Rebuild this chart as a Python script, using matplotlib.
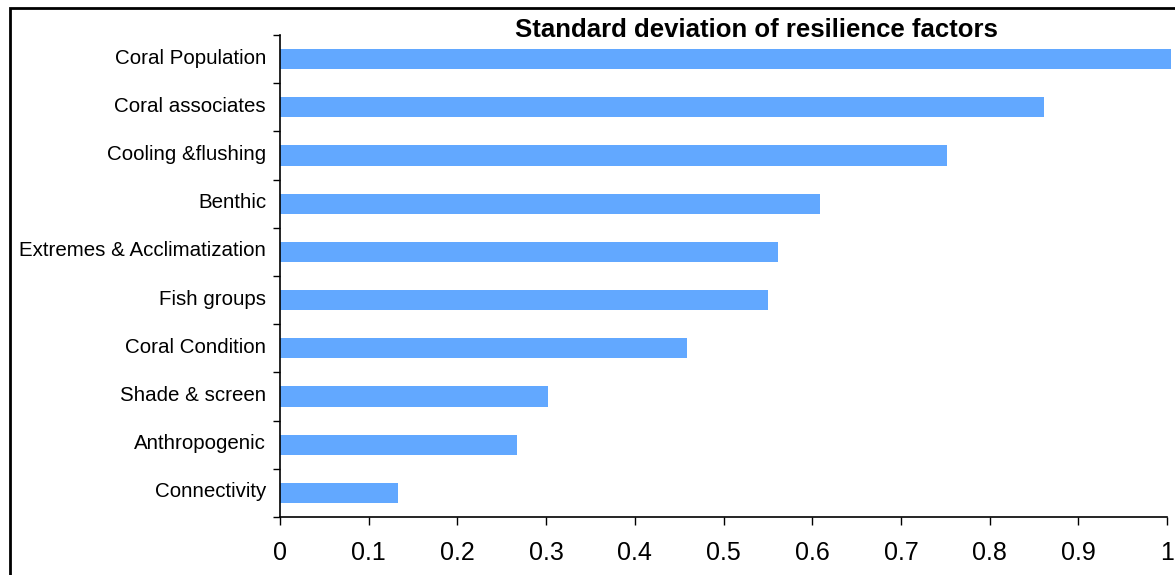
import matplotlib.pyplot as plt
import matplotlib.transforms as mtransforms
from matplotlib.patches import Rectangle

plt.rcParams['font.family'] = ['Liberation Sans', 'DejaVu Sans']

# factors listed bottom to top
factors = [
    "Connectivity",
    "Anthropogenic",
    "Shade & screen",
    "Coral Condition",
    "Fish groups",
    "Extremes & Acclimatization",
    "Benthic",
    "Cooling &flushing",
    "Coral associates",
    "Coral Population",
]
std_dev = [0.133, 0.267, 0.302, 0.459, 0.550, 0.561, 0.609, 0.752, 0.861, 1.004]
x_ticks = [0, 0.1, 0.2, 0.3, 0.4, 0.5, 0.6, 0.7, 0.8, 0.9, 1]
x_tick_labels = ["0", "0.1", "0.2", "0.3", "0.4", "0.5", "0.6", "0.7", "0.8", "0.9", "1"]

W, H = 1175, 575
fig = plt.figure(figsize=(W / 100, H / 100), dpi=100)
ax = fig.add_axes([280 / W, 1 - 517 / H, (1167 - 280) / W, (517 - 35) / H])

positions = list(range(len(factors)))
bars = ax.barh(positions, std_dev, height=0.42, color='#62A8FF', zorder=2)
for b in bars:
    b.set_clip_on(False)

ax.set_xlim(0, 1)
ax.set_ylim(-0.5, len(factors) - 0.5)

# category labels without ticks; ticks between categories
ax.set_yticks(positions)
ax.set_yticklabels(factors, fontsize=14.8)
ax.tick_params(axis='y', which='major', length=0, pad=10)
ax.set_yticks([p + 0.5 for p in [-1] + positions], minor=True)
ax.tick_params(axis='y', which='minor', length=5, width=1, direction='out')
# labels sit a little above the bar centres
shift = mtransforms.ScaledTranslation(0, 3 / 100, fig.dpi_scale_trans)
for lbl in ax.get_yticklabels():
    lbl.set_transform(lbl.get_transform() + shift)

ax.set_xticks(x_ticks)
ax.set_xticklabels(x_tick_labels, fontsize=18)
ax.tick_params(axis='x', length=6, width=1, direction='out', pad=11, colors='black')

for side in ('top', 'right'):
    ax.spines[side].set_visible(False)
ax.spines['left'].set_linewidth(1.2)
ax.spines['bottom'].set_linewidth(1.2)

fig.text(756 / W, 1 - 30 / H, "Standard deviation of resilience factors",
         ha='center', va='center', fontsize=18.5, fontweight='bold')

# outer frame, cut off at the right and bottom edges
fig.patches.append(Rectangle((9.5 / W, -0.1), 1.2, 1 - 8 / H + 0.1,
                             transform=fig.transFigure, fill=False,
                             edgecolor='black', linewidth=2))

fig.savefig('out.png', dpi=100)
